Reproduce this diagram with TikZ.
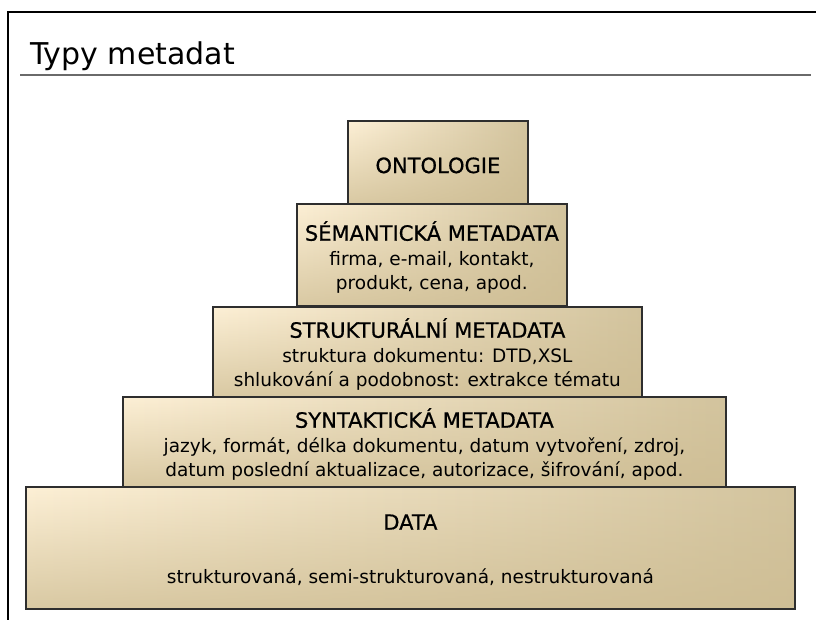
\documentclass[tikz,border=0pt]{standalone}
\usepackage{fontspec}
\setmainfont{DejaVu Sans}
\newfontfamily\headfont[FakeBold=0.7]{DejaVu Sans}
\usetikzlibrary{fadings}
\definecolor{cream}{HTML}{FDF0D6}
\definecolor{midcream}{HTML}{F1E7CF}
\definecolor{tan}{HTML}{D3C49E}
\definecolor{tandark}{HTML}{CDBC92}
\definecolor{edge}{HTML}{2E2E2E}
\definecolor{rulegray}{HTML}{6A6A6A}
\newcommand\hd[1]{{\headfont\fontsize{21}{25}\selectfont #1}}
\begin{document}
\begin{tikzpicture}[x=1pt,y=-1pt,
  tier/.style={draw=edge, line width=1.8pt,
    preaction={left color=cream, middle color=midcream, right color=tan},
    preaction={fill=tandark, path fading=north, fill opacity=0.75},
    anchor=north west, inner sep=0pt},
  tiertext/.style={inner sep=0pt, align=center,
    font=\fontsize{18.5}{24.5}\selectfont},
  frame/.style={line width=2pt, black},
  titlerule/.style={line width=1.3pt, rulegray}]
\useasboundingbox (0,0) rectangle (816,620);
\draw[frame] (8,620) -- (8,12) -- (816,12);
\node[anchor=base west, inner sep=0pt, font=\fontsize{30}{34}\selectfont] (title) at (30,65) {Typy metadat};
\draw[titlerule] (20,75) -- (811,75);
\node[tier, minimum width=180pt, minimum height=83pt] (onto) at (347,120) {};
\node[tier, minimum width=270pt, minimum height=102pt] (sem) at (296,203) {};
\node[tier, minimum width=429pt, minimum height=90pt] (str) at (212,306) {};
\node[tier, minimum width=603pt, minimum height=90pt] (syn) at (122,396) {};
\node[tier, minimum width=769pt, minimum height=122pt] (data) at (25,486) {};
\node[tiertext] (ontot) at ([yshift=-3pt]onto.center) {\hd{ONTOLOGIE}};
\node[tiertext] (semt) at ([yshift=-2.5pt]sem.center) {\hd{SÉMANTICKÁ METADATA}\\firma, e-mail, kontakt,\\produkt, cena, apod.};
\node[tiertext] (strt) at ([yshift=-2.5pt]str.center) {\hd{STRUKTURÁLNÍ METADATA}\\struktura dokumentu: DTD,XSL\\shlukování a podobnost: extrakce tématu};
\node[tiertext] (synt) at ([yshift=-2.5pt]syn.center) {\hd{SYNTAKTICKÁ METADATA}\\jazyk, formát, délka dokumentu, datum vytvoření, zdroj,\\datum poslední aktualizace, autorizace, šifrování, apod.};
\node[tiertext] (datat) at ([yshift=-2pt]data.center) {\hd{DATA}\\[29pt]strukturovaná, semi-strukturovaná, nestrukturovaná};
\end{tikzpicture}
\end{document}
